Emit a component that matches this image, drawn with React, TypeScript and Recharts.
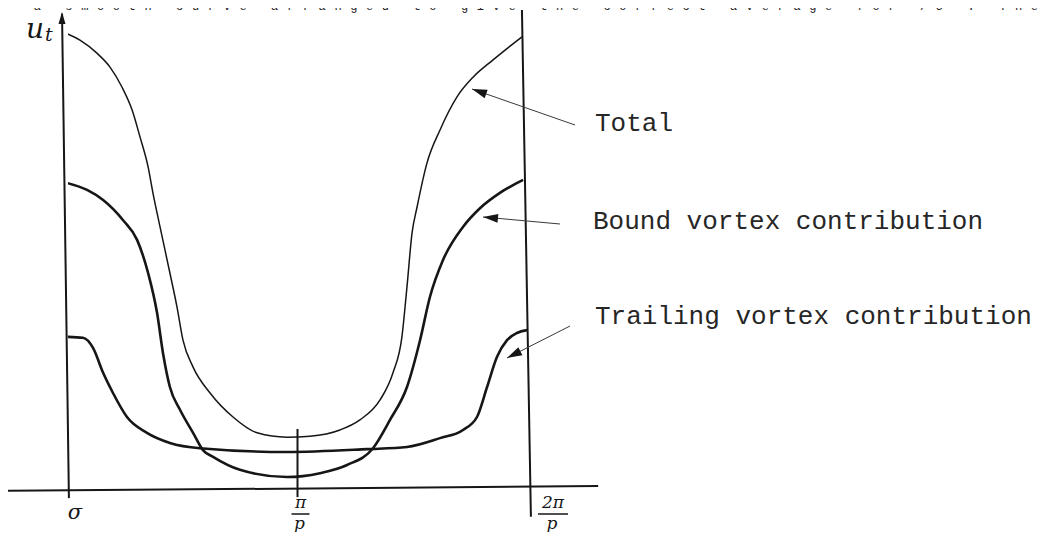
import React from 'react';
import { LineChart, Line, XAxis, YAxis, ReferenceLine } from 'recharts';

// position along the blade passage, in units of π/p
const totalX = [-0.022, 0.052, 0.126, 0.183, 0.235, 0.279, 0.314, 0.349, 0.37, 0.401, 0.444, 0.475, 0.501, 0.545, 0.619, 0.719, 0.824, 0.954, 1.054, 1.185, 1.272, 1.359, 1.416, 1.455, 1.477, 1.499, 1.521, 1.564, 1.621, 1.695, 1.765, 1.852, 1.978];
const totalU = [9.52, 9.35, 9.08, 8.79, 8.375, 7.9, 7.33, 6.71, 6.17, 5.46, 4.5, 3.79, 3.1, 2.54, 2.0, 1.5, 1.17, 1.08, 1.1, 1.23, 1.44, 1.85, 2.42, 3.17, 4.21, 5.33, 5.875, 6.79, 7.48, 8.17, 8.58, 8.94, 9.42];

const boundX = [-0.004, 0.083, 0.153, 0.24, 0.301, 0.349, 0.388, 0.414, 0.444, 0.488, 0.545, 0.588, 0.632, 0.749, 0.954, 1.098, 1.216, 1.329, 1.403, 1.477, 1.534, 1.577, 1.634, 1.721, 1.795, 1.882, 1.983];
const boundU = [6.375, 6.23, 6.02, 5.6, 5.19, 4.5, 3.67, 2.83, 2.125, 1.65, 1.17, 0.81, 0.67, 0.4, 0.25, 0.33, 0.5, 0.85, 1.44, 2.125, 3.1, 4.0, 4.77, 5.46, 5.85, 6.17, 6.44];

const trailingX = [0, 0.065, 0.109, 0.153, 0.196, 0.257, 0.344, 0.444, 0.575, 0.954, 1.303, 1.477, 1.621, 1.721, 1.782, 1.826, 1.869, 1.913, 1.956, 2.0];
const trailingU = [3.17, 3.15, 2.94, 2.42, 2.0, 1.5, 1.17, 0.96, 0.85, 0.77, 0.83, 0.875, 1.06, 1.23, 1.5, 2.125, 2.75, 3.1, 3.25, 3.31];

const tickValues = [0, 1, 2];
const tickNumerators = ['σ', 'π', '2π'];
const tickDenominator = 'p';

const seriesNames = ['Total', 'Bound vortex contribution', 'Trailing vortex contribution'];

const toPoints = (xs: number[], us: number[]) => xs.map((x, i) => ({ x, u: us[i] }));
const totalData = toPoints(totalX, totalU);
const boundData = toPoints(boundX, boundU);
const trailingData = toPoints(trailingX, trailingU);

const W = 1051;
const H = 540;
const AXIS_H = 45;
const MARGIN = { top: 9, right: 524, bottom: 6, left: 68 };
const BASE_Y = H - MARGIN.bottom - AXIS_H;
const INK = '#161616';
const SERIF = '"DejaVu Serif", "Liberation Serif", serif';
const MONO = '"Liberation Mono", "DejaVu Sans Mono", monospace';

const FractionTick = (props: any) => {
  const { x, payload } = props;
  const i = tickValues.indexOf(payload.value);
  if (i === 0) {
    return (
      <text x={x + 7} y={BASE_Y + 30} textAnchor="middle" fontFamily={SERIF} fontStyle="italic" fontSize={21} fill={INK}>
        {tickNumerators[0]}
      </text>
    );
  }
  const cx = i === 1 ? x + 3 : x + 26;
  const half = i === 1 ? 9 : 15;
  return (
    <g>
      <text x={cx} y={BASE_Y + 19} textAnchor="middle" fontFamily={SERIF} fontStyle="italic" fontSize={17} fill={INK}>
        {tickNumerators[i]}
      </text>
      <line x1={cx - half} x2={cx + half} y1={BASE_Y + 25} y2={BASE_Y + 25} stroke={INK} strokeWidth={1.5} />
      <text x={cx - 1} y={BASE_Y + 40} textAnchor="middle" fontFamily={SERIF} fontStyle="italic" fontSize={17} fill={INK}>
        {tickDenominator}
      </text>
    </g>
  );
};

// leader arrows from the captions to their curves
const leaders = [
  { text: seriesNames[0], tx: 595, ty: 131, from: [575, 125], to: [472, 89] },
  { text: seriesNames[1], tx: 593, ty: 229, from: [560, 224], to: [483, 217] },
  { text: seriesNames[2], tx: 595, ty: 324, from: [570, 326], to: [507, 358] },
];

const arrowHead = (from: number[], to: number[], len = 15, w = 4.5) => {
  const dx = to[0] - from[0];
  const dy = to[1] - from[1];
  const d = Math.hypot(dx, dy);
  const ux = dx / d;
  const uy = dy / d;
  const bx = to[0] - ux * len;
  const by = to[1] - uy * len;
  return `${to[0]},${to[1]} ${bx - uy * w},${by + ux * w} ${bx + uy * w},${by - ux * w}`;
};

const Overlay = () => (
  <svg width={W} height={H} style={{ position: 'absolute', left: 0, top: 0, pointerEvents: 'none' }}>
    {/* end of the running text above the figure */}
    <text x={2} y={10} fontFamily={MONO} fontSize={12} fill="#1e1e1e" textLength={1036} lengthAdjust="spacing">
      y a smooth curve arranged to give the correct average for /5 . The
    </text>

    {/* y axis arrow and label */}
    <polygon points="62,12 58.5,24 65.5,24" fill={INK} />
    <text x={26} y={38} fontFamily={SERIF} fontStyle="italic" fontSize={28} fill={INK}>
      u
      <tspan dx={1} dy={3} fontSize={19}>t</tspan>
    </text>

    {leaders.map((l) => (
      <g key={l.text}>
        <line x1={l.from[0]} y1={l.from[1]} x2={l.to[0]} y2={l.to[1]} stroke="#3a3a3a" strokeWidth={1} />
        <polygon points={arrowHead(l.from, l.to)} fill={INK} />
        <text x={l.tx} y={l.ty} fontFamily={MONO} fontSize={26} fill="#262626">
          {l.text}
        </text>
      </g>
    ))}
  </svg>
);

export default function App() {
  return (
    <div style={{ position: 'relative', width: W, height: H, margin: -8, background: '#fff' }}>
      <LineChart width={W} height={H} margin={MARGIN}>
        <XAxis
          type="number"
          dataKey="x"
          domain={[0, 2]}
          allowDataOverflow
          ticks={tickValues}
          interval={0}
          axisLine={false}
          tickLine={false}
          height={AXIS_H}
          tick={<FractionTick />}
        />
        <YAxis type="number" dataKey="u" domain={[0, 10]} allowDataOverflow hide width={0} />

        {/* hand-drawn axes and the period boundary */}
        <ReferenceLine segment={[{ x: -0.3, y: -0.04 }, { x: 2.31, y: 0.06 }]} stroke={INK} strokeWidth={2} ifOverflow="visible" />
        <ReferenceLine segment={[{ x: -0.026, y: 9.9 }, { x: 0.004, y: -0.19 }]} stroke={INK} strokeWidth={2} ifOverflow="visible" />
        <ReferenceLine segment={[{ x: 1.978, y: 9.98 }, { x: 2.017, y: -0.58 }]} stroke={INK} strokeWidth={2} ifOverflow="visible" />
        <ReferenceLine segment={[{ x: 1, y: 1.25 }, { x: 1, y: -0.17 }]} stroke={INK} strokeWidth={2} ifOverflow="visible" />

        <Line data={totalData} dataKey="u" name={seriesNames[0]} type="monotone" stroke={INK} strokeWidth={1.5} dot={false} isAnimationActive={false} />
        <Line data={boundData} dataKey="u" name={seriesNames[1]} type="monotone" stroke={INK} strokeWidth={2.6} dot={false} isAnimationActive={false} />
        <Line data={trailingData} dataKey="u" name={seriesNames[2]} type="monotone" stroke={INK} strokeWidth={2.6} dot={false} isAnimationActive={false} />
      </LineChart>
      <Overlay />
    </div>
  );
}
